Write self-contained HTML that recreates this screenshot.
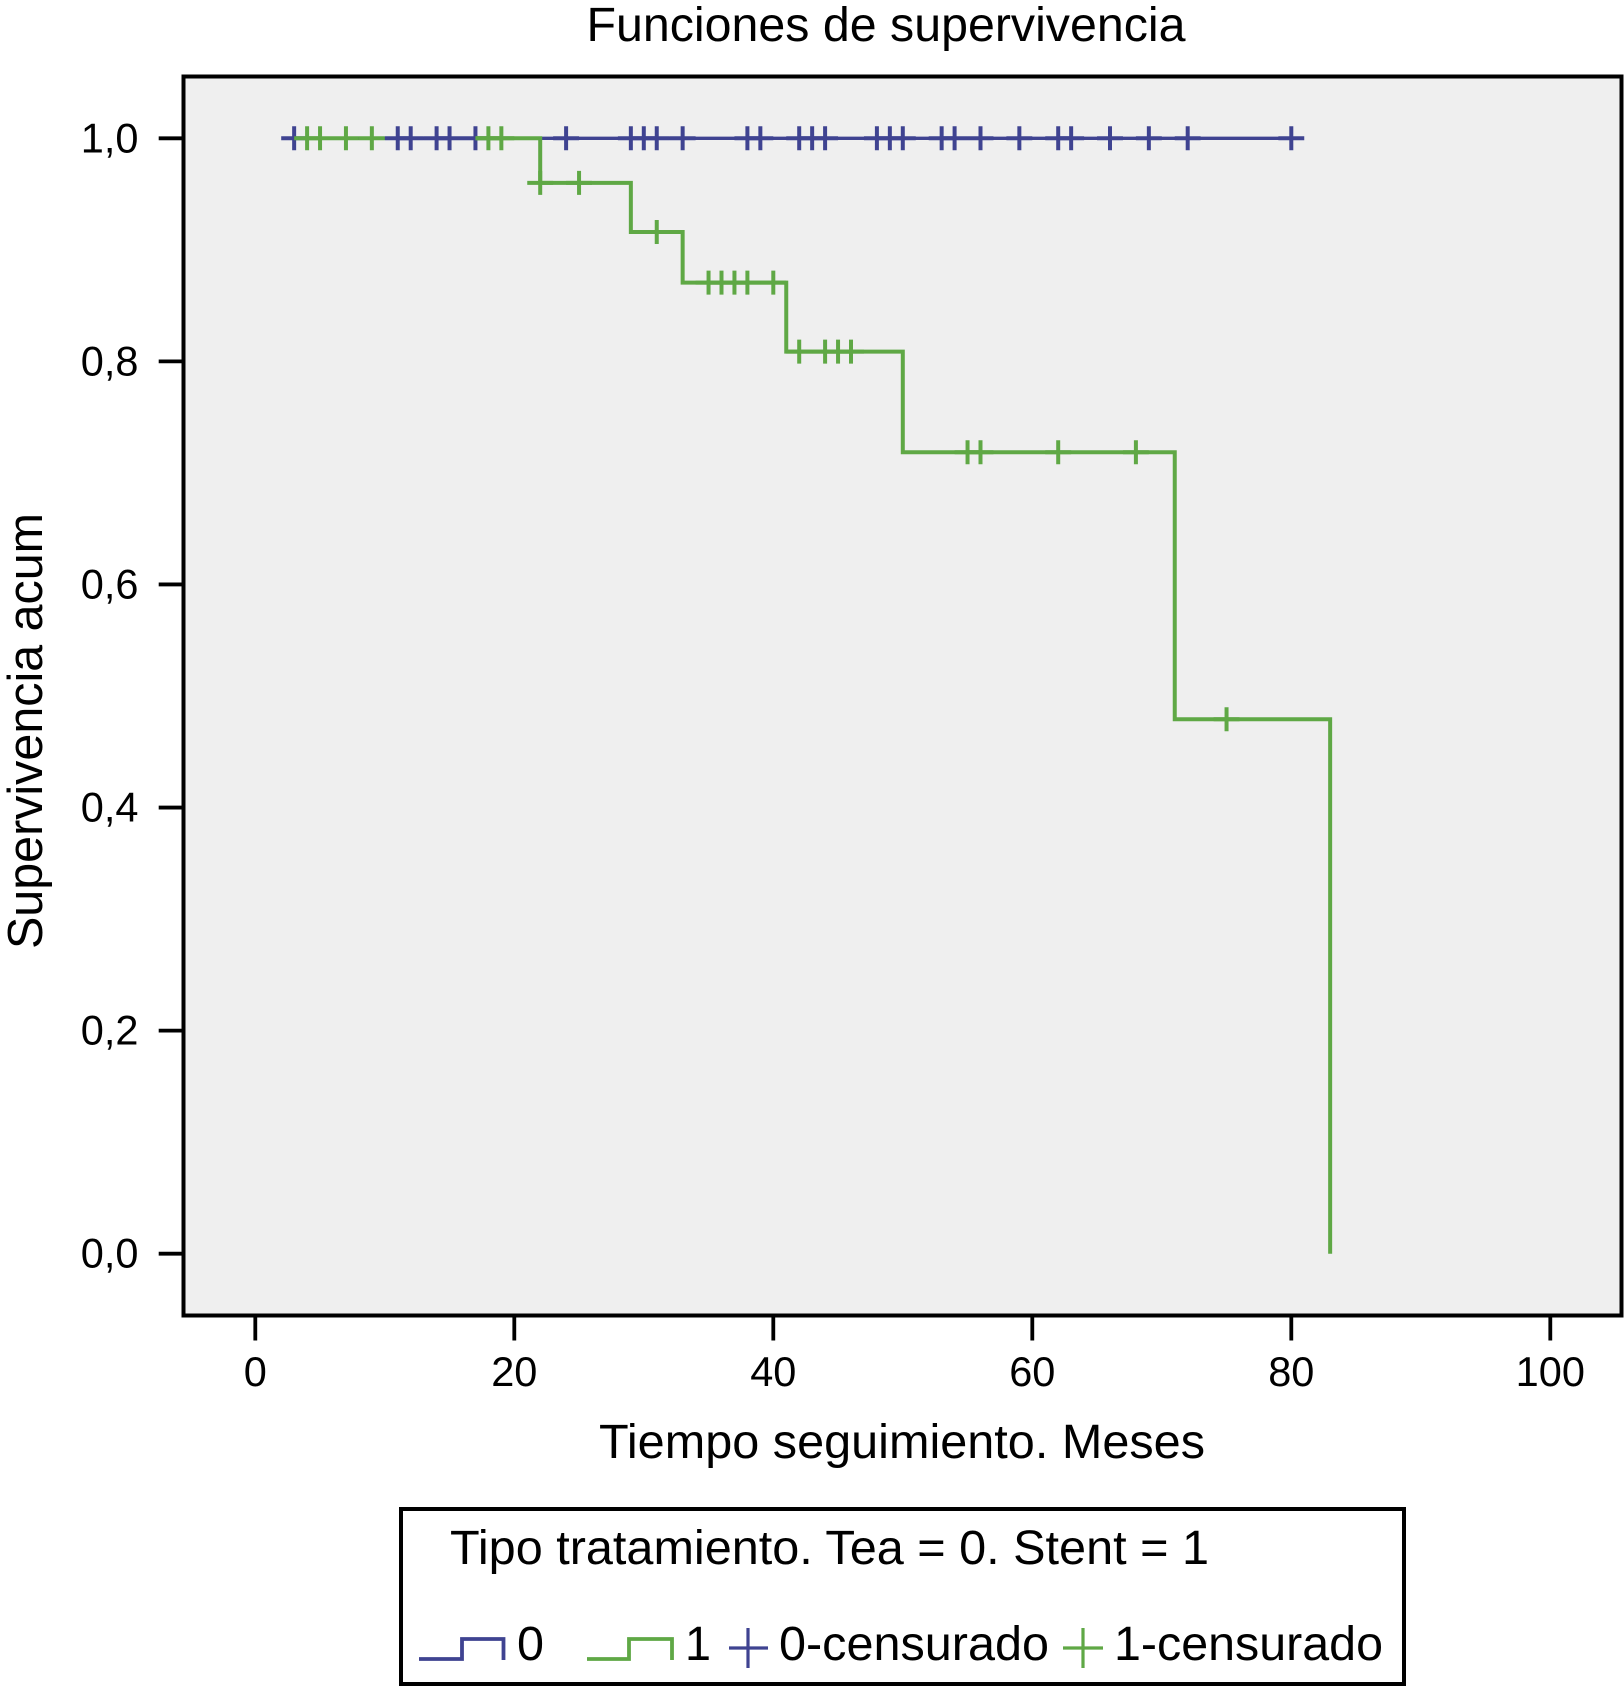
<!DOCTYPE html>
<html lang="es">
<head>
<meta charset="utf-8">
<title>Funciones de supervivencia</title>
<style>
html,body{margin:0;padding:0;background:#fff;width:1624px;height:1687px;overflow:hidden}
svg{display:block;font-family:"Liberation Sans",Arial,sans-serif;fill:#000}
</style>
</head>
<body>
<svg id="chart" xmlns="http://www.w3.org/2000/svg" width="1624" height="1687" viewBox="0 0 1624 1687">
  <rect x="0" y="0" width="1624" height="1687" fill="#fff"/>
  <text x="886" y="41" font-size="48.500" text-anchor="middle" textLength="599" lengthAdjust="spacingAndGlyphs">Funciones de supervivencia</text>
  <rect x="183.500" y="76.500" width="1438" height="1239" fill="#efefef" stroke="#000" stroke-width="4"/>
  <g id="axes"></g>
  <g id="series"></g>
  <text x="902" y="1458" font-size="48.500" text-anchor="middle" textLength="606" lengthAdjust="spacingAndGlyphs">Tiempo seguimiento. Meses</text>
  <text transform="translate(42,731) rotate(-90)" font-size="49" text-anchor="middle" textLength="436" lengthAdjust="spacingAndGlyphs">Supervivencia acum</text>
  <g>
    <rect x="401" y="1509" width="1003" height="175" fill="#fff" stroke="#000" stroke-width="4"/>
    <text x="450" y="1564" font-size="48.500" textLength="759" lengthAdjust="spacingAndGlyphs">Tipo tratamiento. Tea = 0. Stent = 1</text>
    <path d="M419 1659H462V1639H503.500V1660" fill="none" stroke="#3f4391" stroke-width="3.800"/>
    <text x="517" y="1660" font-size="48.500" textLength="27" lengthAdjust="spacingAndGlyphs">0</text>
    <path d="M587 1659H629V1639H672V1660" fill="none" stroke="#5fa845" stroke-width="3.800"/>
    <text x="685" y="1660" font-size="48.500" textLength="26" lengthAdjust="spacingAndGlyphs">1</text>
    <path d="M748 1628V1668M729 1648H768" fill="none" stroke="#3f4391" stroke-width="3.200"/>
    <text x="779" y="1660" font-size="48.500" textLength="270" lengthAdjust="spacingAndGlyphs">0-censurado</text>
    <path d="M1083 1628V1668M1063 1648H1103" fill="none" stroke="#5fa845" stroke-width="3.200"/>
    <text x="1114" y="1660" font-size="48.500" textLength="269" lengthAdjust="spacingAndGlyphs">1-censurado</text>
  </g>
</svg>
<script>
const xTickValues = [0, 20, 40, 60, 80, 100];
const xTickLabels = ["0", "20", "40", "60", "80", "100"];
const yTickValues = [0, 0.2, 0.4, 0.6, 0.8, 1];
const yTickLabels = ["0,0", "0,2", "0,4", "0,6", "0,8", "1,0"];

const tea0Times = [3, 80];
const tea0Survival = [1, 1];
const tea0Censored = [3, 11, 12, 14, 15, 17, 24, 29, 30, 31, 33, 38, 39, 42, 43, 44, 48, 49, 50, 53, 54, 56, 59, 62, 63, 66, 69, 72, 80];

const stent1Times = [17, 22, 29, 33, 41, 50, 71, 83];
const stent1Survival = [1, 0.96, 0.916, 0.8706, 0.8087, 0.7185, 0.4791, 0];
const stent1Censored = [4, 5, 7, 9, 18, 19, 22, 25, 31, 35, 36, 37, 38, 40, 42, 44, 45, 46, 55, 56, 62, 68, 75];

const SVGNS = "http://www.w3.org/2000/svg";
const BLUE = "#3f4391";
const GREEN = "#5fa845";

function xScale(v) { return 255.3 + v * 12.95; }
function yScale(v) { return 1253.7 - v * 1115.4; }

function make(tag, parent, props) {
  const el = document.createElementNS(SVGNS, tag);
  for (const k in props) el.setAttribute(k, props[k]);
  parent.appendChild(el);
  return el;
}

function stepAt(list, t) {
  let idx = 0;
  for (let i = 0; i < list.length; i++) if (list[i] <= t) idx = i;
  return idx;
}

const axes = document.getElementById("axes");
xTickValues.forEach(function (v, i) {
  const x = xScale(v);
  const tick = make("line", axes, { x1: x, x2: x, y1: 1316, y2: 1340.5, stroke: "#000", "stroke-width": 3.8 });
  
  
  const label = make("text", axes, { x: x, y: 1386, "font-size": 41.5, "text-anchor": "middle" });
  label.textContent = xTickLabels[i];
  
  
});
yTickValues.forEach(function (v, i) {
  const y = yScale(v);
  const tick = make("line", axes, { x1: 158.7, x2: 183, y1: y, y2: y, stroke: "#000", "stroke-width": 3.8 });
  
  
  const label = make("text", axes, { x: 138.5, y: y + 14, "font-size": 41.5, "text-anchor": "end" });
  label.textContent = yTickLabels[i];
  
  
});

function stepPath(times, values) {
  let d = "M" + xScale(times[0]) + " " + yScale(values[0]);
  for (let i = 1; i < times.length; i++) {
    d += "H" + xScale(times[i]) + "V" + yScale(values[i]);
  }
  return d;
}

function censorMark(parent, t, s, color) {
  const x = xScale(t);
  const y = yScale(s);
  const halfW = xScale(1) - xScale(0);
  const d = "M" + x + " " + (y - 12) + "V" + (y + 12) + "M" + (x - halfW) + " " + y + "H" + (x + halfW);
  return make("path", parent, { d: d, fill: "none", stroke: color, "stroke-width": 4 });
}

const series = document.getElementById("series");

const tea0Line = make("path", series, { d: stepPath(tea0Times, tea0Survival), fill: "none", stroke: BLUE, "stroke-width": 3.4 });


tea0Censored.forEach(function (t) {
  const s = tea0Survival[stepAt(tea0Times, t)];
  const mark = censorMark(series, t, s, BLUE);
  
  
});

const stent1Line = make("path", series, { d: stepPath(stent1Times, stent1Survival), fill: "none", stroke: GREEN, "stroke-width": 4 });


stent1Censored.forEach(function (t) {
  const s = t < stent1Times[0] ? stent1Survival[0] : stent1Survival[stepAt(stent1Times, t)];
  const mark = censorMark(series, t, s, GREEN);
  
  
});
</script>
</body>
</html>
